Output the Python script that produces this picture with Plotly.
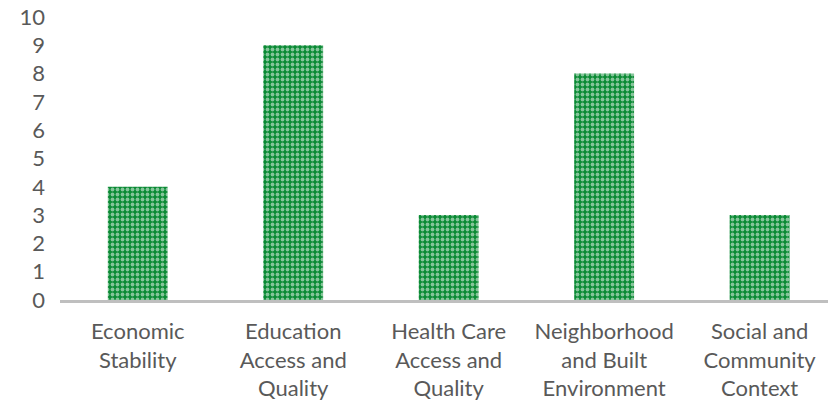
import plotly.graph_objects as go

categories = ["Economic<br>Stability", "Education<br>Access and<br>Quality",
              "Health Care<br>Access and<br>Quality", "Neighborhood<br>and Built<br>Environment",
              "Social and<br>Community<br>Context"]
values = [4, 9, 3, 8, 3]
y_ticks = list(range(0, 11))

GREEN = "#0A8A34"
TEXT = "#595959"
FONT = "Lato"
FSIZE = 22

fig = go.Figure(go.Bar(
    x=list(range(len(categories))),
    y=values,
    width=0.385,
    hoverinfo="skip",
    marker=dict(
        color=GREEN,
        line=dict(width=0),
        pattern=dict(shape=".", fgcolor="white", bgcolor=GREEN, size=5, solidity=0.45),
    ),
))

fig.update_layout(
    width=828, height=401,
    margin=dict(l=60, r=0, t=17, b=101),
    plot_bgcolor="white", paper_bgcolor="white",
    showlegend=False,
    font=dict(family=FONT, size=FSIZE, color=TEXT),
    xaxis=dict(
        range=[-0.5, 4.44],
        tickvals=list(range(len(categories))),
        ticktext=categories,
        showgrid=False, zeroline=False,
        showline=True, linecolor="#BFBFBF", linewidth=2.5,
        ticks="", tickangle=0, automargin=False,
        ticklabelstandoff=10, ticklabeloverflow="allow",
        tickfont=dict(family=FONT, size=FSIZE, color=TEXT),
    ),
    yaxis=dict(
        range=[0, 10],
        tickvals=y_ticks,
        showgrid=False, zeroline=False, showline=False,
        ticks="", ticklabelstandoff=14, automargin=False,
        ticklabeloverflow="allow",
        tickfont=dict(family=FONT, size=FSIZE, color=TEXT),
    ),
)

fig.write_html("out.html", config={"displayModeBar": False},
               post_script="document.body.style.margin='0';")
